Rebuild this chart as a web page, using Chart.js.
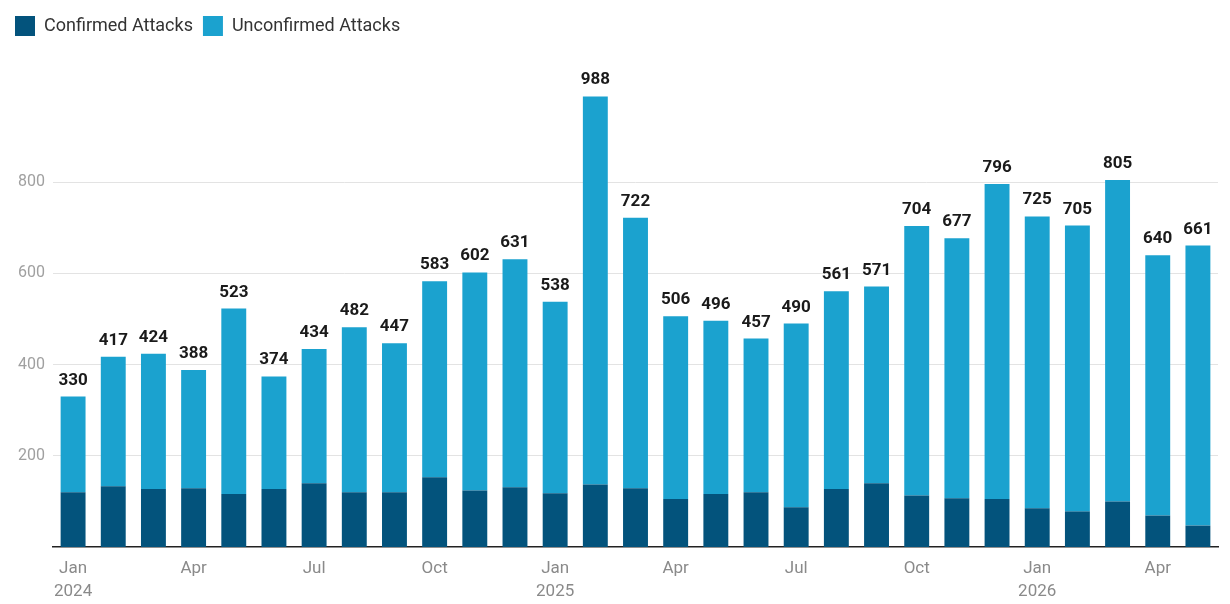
<!DOCTYPE html>
<html lang="en">
<head>
    <meta charset="UTF-8">
    <title>Confirmed and Unconfirmed Attacks</title>
    <script src="https://cdn.jsdelivr.net/npm/chart.js"></script>
    <style>
        body {
            margin: 0;
            background: white;
            font-family: "Roboto", sans-serif;
        }
        #wrap {
            width: 1230px;
            height: 604px;
        }
    </style>
</head>
<body>
    <div id="wrap"><canvas id="chart"></canvas></div>

    <script>
        const months = [
            'Jan 2024', 'Feb 2024', 'Mar 2024', 'Apr 2024', 'May 2024', 'Jun 2024',
            'Jul 2024', 'Aug 2024', 'Sep 2024', 'Oct 2024', 'Nov 2024', 'Dec 2024',
            'Jan 2025', 'Feb 2025', 'Mar 2025', 'Apr 2025', 'May 2025', 'Jun 2025',
            'Jul 2025', 'Aug 2025', 'Sep 2025', 'Oct 2025', 'Nov 2025', 'Dec 2025',
            'Jan 2026', 'Feb 2026', 'Mar 2026', 'Apr 2026', 'May 2026'
        ];
        const tickLabels = [
            ['Jan', '2024'], '', '', 'Apr', '', '', 'Jul', '', '', 'Oct', '', '',
            ['Jan', '2025'], '', '', 'Apr', '', '', 'Jul', '', '', 'Oct', '', '',
            ['Jan', '2026'], '', '', 'Apr', ''
        ];
        const confirmed = [120, 133, 127, 129, 116, 127, 140, 120, 120, 153, 124, 131,
                           118, 137, 129, 105, 116, 120, 87, 127, 140, 113, 107, 105,
                           85, 78, 100, 69, 47];
        const unconfirmed = [210, 284, 297, 259, 407, 247, 294, 362, 327, 430, 478, 500,
                             420, 851, 593, 401, 380, 337, 403, 434, 431, 591, 570, 691,
                             640, 627, 705, 571, 614];
        const yTicks = [200, 400, 600, 800];

        // totals written above each stacked bar
        const totalLabels = {
            id: 'totalLabels',
            afterDatasetsDraw(chart) {
                const ctx = chart.ctx;
                const top = chart.getDatasetMeta(1);
                ctx.save();
                ctx.font = 'bold 17px Roboto';
                ctx.fillStyle = '#1a1a1a';
                ctx.textAlign = 'center';
                ctx.textBaseline = 'alphabetic';
                top.data.forEach((bar, i) => {
                    const total = confirmed[i] + unconfirmed[i];
                    ctx.fillText(total, bar.x, bar.y - 12);
                });
                ctx.restore();
            }
        };

        // extra room under the legend
        const legendGap = {
            id: 'legendGap',
            beforeInit(chart) {
                const fit = chart.legend.fit;
                chart.legend.fit = function () {
                    fit.bind(chart.legend)();
                    this.height += 45;
                };
            }
        };

        new Chart(document.getElementById('chart'), {
            type: 'bar',
            data: {
                labels: months,
                datasets: [
                    {
                        label: 'Confirmed Attacks',
                        data: confirmed,
                        backgroundColor: '#03537c'
                    },
                    {
                        label: 'Unconfirmed Attacks',
                        data: unconfirmed,
                        backgroundColor: '#1ba2cf'
                    }
                ]
            },
            options: {
                responsive: true,
                maintainAspectRatio: false,
                animation: false,
                layout: {
                    padding: { left: 5, right: 12, top: 6, bottom: 2 }
                },
                datasets: {
                    bar: {
                        categoryPercentage: 1,
                        barPercentage: 0.62
                    }
                },
                plugins: {
                    legend: {
                        align: 'start',
                        labels: {
                            boxWidth: 20,
                            boxHeight: 20,
                            color: '#333',
                            font: { family: 'Roboto', size: 18 }
                        }
                    },
                    tooltip: { enabled: false }
                },
                scales: {
                    x: {
                        stacked: true,
                        afterFit: axis => {
                            axis.height = 55;
                        },
                        grid: { display: false },
                        border: { display: true, color: '#222', width: 1.5 },
                        ticks: {
                            autoSkip: false,
                            maxRotation: 0,
                            padding: 2,
                            color: '#8a8a8a',
                            font: { family: 'Roboto', size: 17, lineHeight: 1.35 },
                            callback: (value, index) => tickLabels[index]
                        }
                    },
                    y: {
                        stacked: true,
                        min: 0,
                        max: 1000,
                        afterBuildTicks: axis => {
                            axis.ticks = yTicks.map(v => ({ value: v }));
                        },
                        afterFit: axis => {
                            axis.width = 48;
                        },
                        grid: {
                            color: '#e3e3e3',
                            lineWidth: 1,
                            drawTicks: false
                        },
                        border: { display: false },
                        ticks: {
                            padding: 8,
                            color: '#a0a0a0',
                            font: { family: 'Roboto', size: 16 }
                        }
                    }
                }
            },
            plugins: [totalLabels, legendGap]
        });
    </script>
</body>
</html>
